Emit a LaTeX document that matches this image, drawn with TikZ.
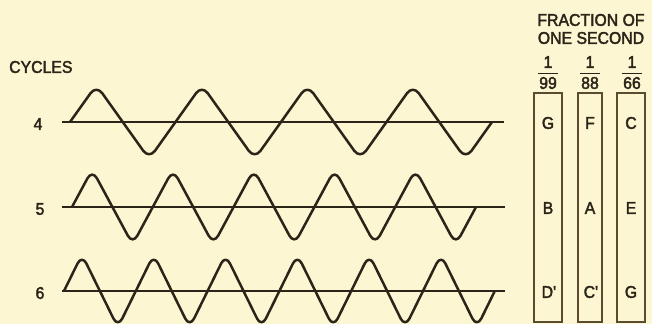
\documentclass[tikz,border=0pt]{standalone}
\usepackage{fontspec}
\newfontfamily\lettering{Liberation Sans}[FakeStretch=0.93,RawFeature={embolden=2.2}]
\definecolor{paper}{HTML}{FCF6D2}
\definecolor{ink}{HTML}{2B2519}
\definecolor{boxink}{HTML}{5B4B30}
\begin{document}
\begin{tikzpicture}[x=1pt,y=-1pt,
  wave/.style={draw=ink,line width=2.5pt,rounded corners=10pt,line join=round},
  axisline/.style={draw=ink,line width=1.4pt},
  strip/.style={draw=boxink,line width=1.3pt,fill=paper,inner sep=0pt},
  lbl/.style={text=ink,font=\lettering\fontsize{17}{18}\selectfont,inner sep=0pt},
  frac/.style={text=ink,font=\lettering\fontsize{17}{18}\selectfont,inner sep=0pt}]
\fill[paper] (0,0) rectangle (652,324);
\useasboundingbox (0,0) rectangle (652,324);

% labels
\node[lbl,anchor=west] (cyc) at (9,67) {CYCLES};
\node[lbl] (n4) at (38,124) {4};
\node[lbl] (n5) at (40,209) {5};
\node[lbl] (n6) at (40,293) {6};

% axes
\coordinate (a4s) at (62,122); \coordinate (a4e) at (504,122);
\coordinate (a5s) at (62,207); \coordinate (a5e) at (505,207);
\coordinate (a6s) at (62,291); \coordinate (a6e) at (505,291);
\draw[axisline] (a4s) -- (a4e);
\draw[axisline] (a5s) -- (a5e);
\draw[axisline] (a6s) -- (a6e);

% waves
\coordinate (w4) at (70,122);
\coordinate (w5) at (72,207);
\coordinate (w6) at (64,291);
\def\P{105.5}\def\A{37}
\draw[wave] (w4) \foreach \i in {1,...,4} { -- ++(\P/4,-\A) -- ++(\P/2,2*\A) -- ++(\P/4,-\A) };
\def\P{80.8}\def\A{37.5}
\draw[wave] (w5) \foreach \i in {1,...,5} { -- ++(\P/4,-\A) -- ++(\P/2,2*\A) -- ++(\P/4,-\A) };
\def\P{71.8}\def\A{36.5}
\draw[wave] (w6) \foreach \i in {1,...,6} { -- ++(\P/4,-\A) -- ++(\P/2,2*\A) -- ++(\P/4,-\A) };

% heading
\node[lbl] (h1) at (591,20) {FRACTION OF};
\node[lbl] (h2) at (591,38) {ONE SECOND};

% fractions
\node[frac] (u1) at (548,62) {1};
\node[frac] (d1) at (548,83) {99};
\node[frac] (u2) at (590,62) {1};
\node[frac] (d2) at (590,83) {88};
\node[frac] (u3) at (632,62) {1};
\node[frac] (d3) at (632,83) {66};
\foreach \d in {d1,d2,d3}
  \draw[ink,line width=1.4pt] ([xshift=-1pt,yshift=3.5pt]\d.north west) -- ([xshift=1pt,yshift=3.5pt]\d.north east);

% strips
\node[strip,minimum width=28pt,minimum height=229pt] (s1) at (548,207.5) {};
\node[strip,minimum width=24pt,minimum height=229pt] (s2) at (590,207.5) {};
\node[strip,minimum width=28pt,minimum height=229pt] (s3) at (631,207.5) {};

\node[lbl] (g1) at (548,123) {G};
\node[lbl] (b1) at (548,208) {B};
\node[lbl] (dd1) at (549,292) {D\textquotesingle};
\node[lbl] (f2) at (590,123) {F};
\node[lbl] (a2) at (590,208) {A};
\node[lbl] (cc2) at (591,292) {C\textquotesingle};
\node[lbl] (c3) at (631,123) {C};
\node[lbl] (e3) at (631,208) {E};
\node[lbl] (g3) at (631,292) {G};
\end{tikzpicture}
\end{document}
